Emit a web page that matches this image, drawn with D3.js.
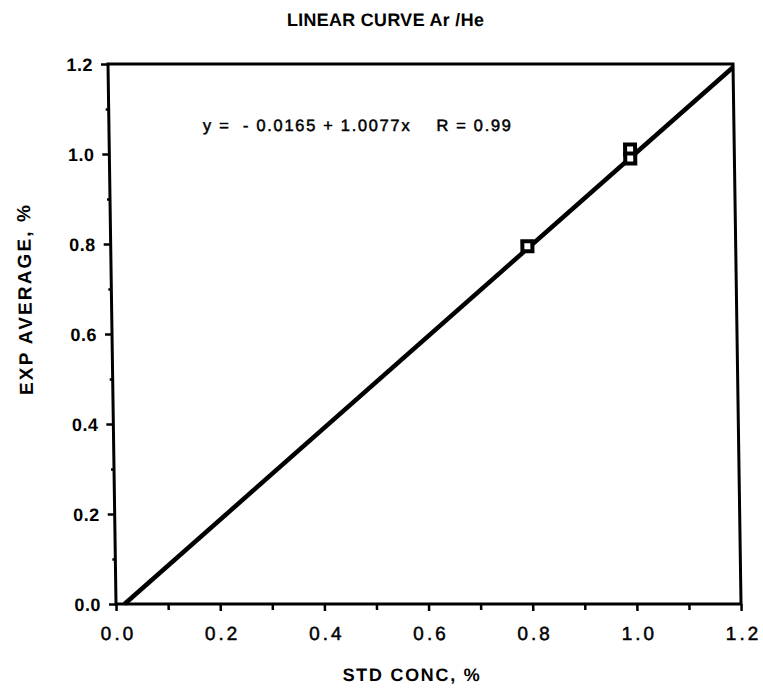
<!DOCTYPE html>
<html>
<head>
<meta charset="utf-8">
<script src="https://cdn.jsdelivr.net/npm/d3@7"></script>
<style>
  html, body { margin: 0; padding: 0; background: #fff; }
  svg { display: block; }
  text { font-family: "Liberation Sans", Arial, Helvetica, sans-serif; fill: #000; }
</style>
</head>
<body>
<script>
// Calibration data: standard concentration vs. experimental average (Ar in He)
const stdConc = [0.80, 1.00, 1.00];
const expAverage = [0.795, 1.01, 0.99];

// Least-squares fit
const fitIntercept = -0.0165;
const fitSlope = 1.0077;
const fitR = 0.99;

const majorTicks = [0, 0.2, 0.4, 0.6, 0.8, 1.0, 1.2];
const minorTicks = [0.1, 0.3, 0.5, 0.7, 0.9, 1.1];

const titleText = "LINEAR CURVE Ar /He";
const xTitle = "STD CONC, %";
const yTitle = "EXP AVERAGE, %";

const W = 763, H = 689;
const plot = { left: 108, right: 733, top: 64, bottom: 604 };

const svg = d3.select("body").append("svg")
  .attr("width", W).attr("height", H);

// The whole figure leans slightly to the right toward the bottom
const g = svg.append("g")
  .attr("transform", `translate(0,${plot.top}) skewX(0.85) translate(0,${-plot.top})`);

const x = d3.scaleLinear().domain([0, 1.2]).range([plot.left, plot.right]);
const y = d3.scaleLinear().domain([0, 1.2]).range([plot.bottom, plot.top]);

// Minor ticks
g.append("g")
  .attr("transform", `translate(0,${plot.bottom})`)
  .call(d3.axisBottom(x).tickValues(minorTicks).tickSize(6).tickFormat(""))
  .call(a => a.select(".domain").remove())
  .call(a => a.selectAll("line").attr("stroke-width", 2.5));
g.append("g")
  .attr("transform", `translate(${plot.left},0)`)
  .call(d3.axisLeft(y).tickValues(minorTicks).tickSize(3).tickFormat(""))
  .call(a => a.select(".domain").remove())
  .call(a => a.selectAll("line").attr("stroke-width", 2.5));

// Major ticks and labels
const xAxis = g.append("g")
  .attr("transform", `translate(0,${plot.bottom})`)
  .call(d3.axisBottom(x).tickValues(majorTicks).tickSize(7).tickPadding(16)
    .tickFormat(d3.format(".1f")));
xAxis.select(".domain").remove();
xAxis.selectAll("line").attr("stroke-width", 2.5);
xAxis.selectAll("text")
  .attr("font-size", 19).attr("letter-spacing", 3)
  .attr("stroke", "#000").attr("stroke-width", 0.5)
  .attr("dx", 1.5);

const yAxis = g.append("g")
  .attr("transform", `translate(${plot.left},0)`)
  .call(d3.axisLeft(y).tickValues(majorTicks).tickSize(7).tickPadding(8)
    .tickFormat(d3.format(".1f")));
yAxis.select(".domain").remove();
yAxis.selectAll("line").attr("stroke-width", 2.5);
yAxis.selectAll("text")
  .attr("font-size", 18).attr("font-weight", "bold").attr("letter-spacing", 0.5)
  .attr("dy", "0.36em");

// Frame
g.append("rect")
  .attr("x", plot.left).attr("y", plot.top)
  .attr("width", plot.right - plot.left).attr("height", plot.bottom - plot.top)
  .attr("fill", "none").attr("stroke", "#000").attr("stroke-width", 3);

// Fitted line, from where it crosses y = 0 to the right edge
const x0 = -fitIntercept / fitSlope;
const fitLine = [x0, 1.2].map(v => [v, fitIntercept + fitSlope * v]);
g.append("path")
  .attr("d", d3.line().x(d => x(d[0])).y(d => y(d[1]))(fitLine))
  .attr("fill", "none").attr("stroke", "#000").attr("stroke-width", 4.5);

// Data markers: heavy open squares
const ms = 10;
g.selectAll("rect.pt").data(stdConc).join("rect")
  .attr("class", "pt")
  .attr("x", (d, i) => x(d) - ms / 2)
  .attr("y", (d, i) => y(expAverage[i]) - ms / 2)
  .attr("width", ms).attr("height", ms)
  .attr("fill", "#fff").attr("stroke", "#000").attr("stroke-width", 4);

// Fit equation
g.append("text")
  .attr("x", 202).attr("y", 131)
  .attr("font-size", 16.5)
  .attr("stroke", "#000").attr("stroke-width", 0.5)
  .attr("xml:space", "preserve")
  .text(`y =  - ${Math.abs(fitIntercept).toFixed(4)} + ${fitSlope.toFixed(4)}x    R = ${fitR.toFixed(2)}`)
  .attr("textLength", 308).attr("lengthAdjust", "spacing");

// Titles
g.append("text")
  .attr("x", 386).attr("y", 26)
  .attr("text-anchor", "middle")
  .attr("font-size", 18).attr("font-weight", "bold")
  .attr("textLength", 197).attr("lengthAdjust", "spacing")
  .text(titleText);

g.append("text")
  .attr("x", 402).attr("y", 681)
  .attr("text-anchor", "middle")
  .attr("font-size", 18).attr("font-weight", "bold")
  .attr("textLength", 137).attr("lengthAdjust", "spacing")
  .text(xTitle);

g.append("text")
  .attr("transform", `translate(28,300) rotate(-90)`)
  .attr("text-anchor", "middle")
  .attr("font-size", 19).attr("font-weight", "bold")
  .attr("textLength", 190).attr("lengthAdjust", "spacing")
  .text(yTitle);
</script>
</body>
</html>
